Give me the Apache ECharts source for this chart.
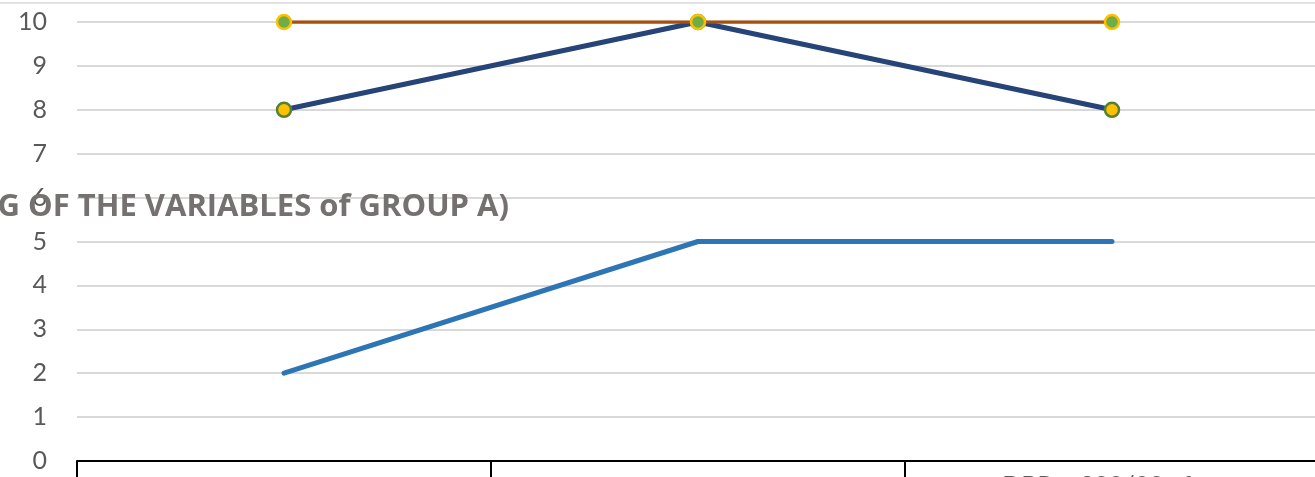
<!DOCTYPE html>
<html>
<head>
<meta charset="utf-8">
<script src="https://cdn.jsdelivr.net/npm/echarts@6/dist/echarts.min.js"></script>
<style>
  html, body { margin: 0; padding: 0; background: #fff; }
  #chart { width: 1315px; height: 477px; }
</style>
</head>
<body>
<div id="chart"></div>
<script>
// Category labels along the bottom axis
var categories = ['', '', 'DBP ≥ 300/90 after'];
// Value axis ticks
var yMin = 0, yMax = 10, yStep = 1;
// Series values
var seriesTop = [10, 10, 10];
var seriesNavy = [8, 10, 8];
var seriesBlue = [2, 5, 5];
var titleText = '(RANKING OF THE VARIABLES of GROUP A)';

var chart = echarts.init(document.getElementById('chart'), null, { renderer: 'canvas' });

var option = {
  animation: false,
  backgroundColor: '#ffffff',
  title: {
    text: titleText,
    right: 801,
    top: 187,
    textStyle: { fontFamily: 'Open Sans', fontWeight: 'bold', fontSize: 31, color: '#767171' }
  },
  grid: { left: 77, right: -4, top: 22, bottom: 16, containLabel: false, outerBoundsMode: 'none' },
  xAxis: {
    type: 'category',
    data: categories,
    boundaryGap: true,
    axisLine: { lineStyle: { color: '#000000', width: 2 } },
    axisTick: { show: true, alignWithLabel: false, length: 24, lineStyle: { color: '#000000', width: 2 } },
    axisLabel: { margin: 12, fontFamily: 'Lato', fontSize: 25, color: '#595959' },
    splitLine: { show: false }
  },
  yAxis: {
    type: 'value',
    min: yMin, max: yMax, interval: yStep,
    axisLine: { show: false },
    axisTick: { show: false },
    axisLabel: { margin: 30, fontFamily: 'Lato', fontSize: 25, color: '#595959' },
    splitLine: { lineStyle: { color: '#d9d9d9', width: 2 } }
  },
  graphic: [{
    type: 'line',
    shape: { x1: 0, y1: 3, x2: 1315, y2: 3 },
    style: { stroke: '#d9d9d9', lineWidth: 1.5 },
    silent: true
  }],
  series: [
    {
      type: 'line',
      data: seriesNavy,
      z: 2,
      lineStyle: { color: '#264478', width: 5 },
      symbol: 'circle',
      symbolSize: 14,
      itemStyle: { color: '#FFC000', borderColor: '#548235', borderWidth: 2.5 }
    },
    {
      type: 'line',
      data: seriesTop,
      z: 3,
      lineStyle: { color: '#A5500F', width: 3.5 },
      symbol: 'circle',
      symbolSize: 14,
      itemStyle: { color: '#70AD47', borderColor: '#FFC000', borderWidth: 2.5 }
    },
    {
      type: 'line',
      data: seriesBlue,
      z: 2,
      lineStyle: { color: '#2E75B6', width: 5, cap: 'round' },
      symbol: 'none'
    }
  ]
};

chart.setOption(option);
</script>
</body>
</html>
